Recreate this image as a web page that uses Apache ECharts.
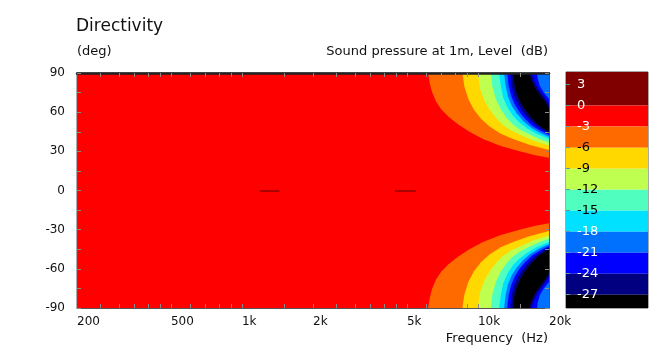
<!DOCTYPE html>
<html>
<head>
<meta charset="utf-8">
<script src="https://cdn.jsdelivr.net/npm/echarts@6/dist/echarts.min.js"></script>
<style>
  html, body { margin: 0; padding: 0; background: #fff; }
  #chart { width: 666px; height: 351px; }
</style>
</head>
<body>
<div id="chart"></div>
<script>
const font = "DejaVu Sans";

// frequency axis (Hz), drawn on a log10 scale
const freqLabels = [200, 500, 1000, 2000, 5000, 10000, 20000];
const freqTicks = [250, 300, 350, 400, 450, 500, 600, 700, 800, 900, 1000, 1500, 2000, 2500,
  3000, 3500, 4000, 4500, 5000, 6000, 7000, 8000, 9000, 10000, 15000];
// angle axis (deg)
const angleLabels = [-90, -60, -30, 0, 30, 60, 90];
const angleTicks = [-90, -75, -60, -45, -30, -15, 0, 15, 30, 45, 60, 75, 90];

// level scale (dB)
const levelTicks = [3, 0, -3, -6, -9, -12, -15, -18, -21, -24, -27];
const bandColors = ["#800000", "#ff0000", "#ff6a00", "#ffd800", "#bfff50", "#50ffc0",
  "#00e0ff", "#0070ff", "#0000ff", "#000080", "#000000"];
const barMax = 4.8, barMin = -28.9;

// contour lines, upper half [freq, angle]; lower half is mirrored
const contourM3 = [[6150, 90], [6250, 82], [6400, 75], [6650, 68], [7000, 62], [7500, 56.5],
  [8200, 51], [9200, 45], [10500, 39.5], [12500, 34], [15000, 30], [17500, 27], [20000, 25]];
const contourM6 = [[8600, 90], [8750, 80], [9100, 70], [9600, 62], [10300, 55], [11200, 49],
  [12500, 43.5], [14100, 39.5], [16500, 35], [20000, 31]];
const contourM9 = [[10000, 90], [10200, 78], [10700, 68], [11300, 61], [12000, 55], [12800, 50],
  [13800, 46], [15200, 42.5], [17300, 38], [20000, 34.5]];
const contourM12 = [[11350, 90], [11500, 80], [11900, 70], [12500, 62], [13200, 56], [14000, 51],
  [15000, 47], [16500, 43], [18200, 39.5], [20000, 37]];
const contourM15 = [[12300, 90], [12500, 80], [12800, 71], [13400, 63], [14100, 57], [15000, 52],
  [16200, 47.5], [17700, 43.5], [20000, 39.5]];
const contourM18 = [[12900, 90], [13100, 80], [13400, 72], [13900, 65], [14600, 59], [15500, 53.5],
  [16700, 48.5], [18200, 44.5], [20000, 41]];
const contourM21 = [[13300, 90], [13500, 80], [13800, 73], [14300, 66], [15000, 60], [15900, 54.5],
  [17000, 49.5], [18500, 45.5], [20000, 42.5],
  [20000, 70], [19000, 75], [18300, 80], [17900, 86], [17800, 90]];
const contourM24 = [[13700, 90], [13900, 80], [14200, 73], [14700, 67], [15400, 61], [16300, 55.5],
  [17400, 50.5], [18700, 46.5], [20000, 43.5],
  [20000, 66], [19200, 71], [18000, 78], [17200, 85], [16900, 90]];
const contourM27 = [[14100, 90], [14300, 80], [14600, 74], [15100, 68], [15800, 62], [16700, 56.5],
  [17700, 51.5], [18900, 47.5], [20000, 45],
  [20000, 63], [19200, 68.5], [18200, 74], [17400, 79], [16800, 85], [16500, 90]];
const contours = [contourM3, contourM6, contourM9, contourM12, contourM15, contourM18,
  contourM21, contourM24, contourM27];

// small spots above 0 dB on axis (0 deg), [from, to] Hz
const peakSpans = [[1190, 1440], [4450, 5450]];

// build filled regions, lowest layer first
const regions = [{ pts: [[200, -90], [20000, -90], [20000, 90], [200, 90]], color: bandColors[1] }];
contours.forEach((c, i) => {
  const up = c[c.length - 1][1] === 90 ? c : c.concat([[20000, 90]]);
  regions.push({ pts: up, color: bandColors[i + 2] });
  regions.push({ pts: up.map(p => [p[0], -p[1]]), color: bandColors[i + 2] });
});

const lg = Math.log10;
const kfmt = v => {
  const f = Math.round(Math.pow(10, v));
  return f >= 1000 ? f / 1000 + "k" : String(f);
};
const tick = { show: true, inside: true, length: 4, lineStyle: { color: "#8a8a8a" } };
const fAxis = {
  type: "value", gridIndex: 0, min: lg(200), max: lg(20000), z: 10,
  axisTick: { show: false },
  splitLine: { show: false },
};

const mychart = echarts.init(document.getElementById("chart"));
mychart.setOption({
  animation: false,
  backgroundColor: "#fff",
  textStyle: { fontFamily: font },
  title: [
    { text: "Directivity", left: 76, top: 18, padding: 0,
      textStyle: { fontSize: 17, fontWeight: "normal", color: "#111", fontFamily: font } },
    { text: "(deg)", left: 77, top: 45, padding: 0,
      textStyle: { fontSize: 13, fontWeight: "normal", color: "#111", fontFamily: font } },
    { text: "Sound pressure at 1m, Level  (dB)", right: 118, top: 45, padding: 0,
      textStyle: { fontSize: 13, fontWeight: "normal", color: "#111", fontFamily: font } },
    { text: "Frequency  (Hz)", right: 118, top: 332, padding: 0,
      textStyle: { fontSize: 13, fontWeight: "normal", color: "#111", fontFamily: font } },
  ],
  grid: [
    { left: 77, top: 73, width: 472, height: 235, show: true, borderColor: "#555", borderWidth: 1 },
    { left: 566, top: 72, width: 82, height: 236, show: true, borderColor: "#555", borderWidth: 1 },
  ],
  xAxis: [
    Object.assign({}, fAxis, {
      position: "bottom",
      axisLine: { show: true, onZero: false, lineStyle: { color: "#555" } },
      axisLabel: { customValues: freqLabels.map(lg), formatter: kfmt, align: "left", margin: 8,
        color: "#111", fontSize: 12, fontFamily: font },
    }),
    Object.assign({}, fAxis, {
      position: "top",
      axisLine: { show: true, onZero: false, lineStyle: { color: "#222", width: 2.5 } },
      axisLabel: { show: false },
    }),
    { type: "value", gridIndex: 1, min: 0, max: 1, show: false },
  ],
  yAxis: [
    {
      type: "value", gridIndex: 0, min: -90, max: 90, interval: 15, position: "left", z: 10,
      axisLine: { show: true, onZero: false, lineStyle: { color: "#555" } },
      axisTick: Object.assign({ customValues: angleTicks }, tick),
      axisLabel: { customValues: angleLabels, margin: 12, color: "#111", fontSize: 12, fontFamily: font },
      splitLine: { show: false },
    },
    {
      type: "value", gridIndex: 0, min: -90, max: 90, interval: 15, position: "right", z: 10,
      axisLine: { show: true, onZero: false, lineStyle: { color: "#555" } },
      axisTick: Object.assign({ customValues: angleTicks }, tick),
      axisLabel: { show: false }, splitLine: { show: false },
    },
    {
      type: "value", gridIndex: 1, min: barMin, max: barMax, position: "left", z: 10,
      axisLine: { show: false, onZero: false },
      axisTick: { show: true, inside: true, length: 4, customValues: levelTicks, lineStyle: { color: "#5a9a9a" } },
      axisLabel: { inside: true, customValues: levelTicks, margin: 11, fontSize: 13, fontFamily: font,
        color: v => (v >= -3 || v <= -18 ? "#fff" : "#000") },
      splitLine: { show: false },
    },
  ],
  series: [
    {
      type: "custom", xAxisIndex: 0, yAxisIndex: 0,
      data: regions.map(r => [lg(r.pts[0][0]), r.pts[0][1]]),
      renderItem: (params, api) => {
        const r = regions[params.dataIndex];
        return { type: "polygon", shape: { points: r.pts.map(p => api.coord([lg(p[0]), p[1]])) },
          style: { fill: r.color } };
      },
    },
    {
      type: "custom", xAxisIndex: 0, yAxisIndex: 0, z: 3,
      data: peakSpans.map(s => [lg(s[0]), 0]),
      renderItem: (params, api) => {
        const s = peakSpans[params.dataIndex];
        const a = api.coord([lg(s[0]), 0]), b = api.coord([lg(s[1]), 0]);
        return { type: "line", shape: { x1: a[0], y1: a[1] + 0.5, x2: b[0], y2: b[1] + 0.5 },
          style: { stroke: "#5a0000", lineWidth: 1 } };
      },
    },
    {
      // frequency tick marks on the bottom and top frame
      type: "custom", xAxisIndex: 0, yAxisIndex: 0, z: 12, silent: true,
      data: freqTicks.map(f => [lg(f), 0]),
      renderItem: (params, api) => {
        const f = freqTicks[params.dataIndex];
        const b = api.coord([lg(f), -90]), t = api.coord([lg(f), 90]);
        const x = Math.round(b[0]) + 0.5;
        return { type: "group", children: [
          { type: "line", shape: { x1: x, y1: b[1], x2: x, y2: b[1] - 4 }, style: { stroke: "#8a8a8a", lineWidth: 1 } },
          { type: "line", shape: { x1: x, y1: t[1], x2: x, y2: t[1] + 4 }, style: { stroke: "#8a8a8a", lineWidth: 1 } },
        ] };
      },
    },
    {
      type: "custom", xAxisIndex: 2, yAxisIndex: 2,
      data: bandColors.map((c, i) => [0, i === 0 ? barMax : levelTicks[i]]),
      renderItem: (params, api) => {
        const i = params.dataIndex;
        const hi = i === 0 ? barMax : levelTicks[i];
        const lo = i + 1 < levelTicks.length ? levelTicks[i + 1] : barMin;
        const p1 = api.coord([0, hi]), p2 = api.coord([1, lo]);
        return { type: "rect", shape: { x: p1[0], y: p1[1], width: p2[0] - p1[0], height: p2[1] - p1[1] },
          style: { fill: bandColors[i] } };
      },
    },
  ],
});
</script>
</body>
</html>
